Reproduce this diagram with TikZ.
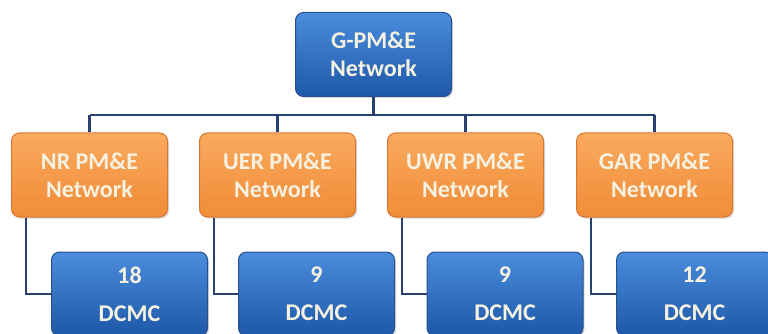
\documentclass[tikz,border=0pt]{standalone}
\usepackage{fontspec}
\setmainfont{Carlito}
\usetikzlibrary{shadows}
\definecolor{bluetop}{RGB}{75,140,220}
\definecolor{bluebot}{RGB}{30,88,168}
\definecolor{blueedge}{RGB}{40,80,140}
\definecolor{orgtop}{RGB}{250,170,95}
\definecolor{orgbot}{RGB}{240,140,55}
\definecolor{orgedge}{RGB}{215,120,50}
\definecolor{linecol}{RGB}{40,65,110}
\definecolor{txtcol}{RGB}{245,242,225}
\tikzset{
  box/.style={rounded corners=8pt, minimum width=156pt, minimum height=84pt,
    align=center, font=\bfseries\fontsize{24}{28}\selectfont, text=txtcol,
    line width=1pt, drop shadow={shadow xshift=1.5pt, shadow yshift=-1.5pt, opacity=0.3}},
  bluebox/.style={box, draw=blueedge, top color=bluetop, bottom color=bluebot},
  orangebox/.style={box, draw=orgedge, top color=orgtop, bottom color=orgbot},
  conn/.style={draw=linecol, line width=2.5pt}
}
\begin{document}
\begin{tikzpicture}[x=1pt,y=-1pt]
\useasboundingbox (0,0) rectangle (768,334);
\coordinate (bar) at (0,115);
\node[bluebox] (top) at (373.5,54.5) {G-PM\&E\\Network};
\node[orangebox] (nr) at (89.5,175) {NR PM\&E\\Network};
\node[orangebox] (uer) at (277.5,175) {UER PM\&E\\Network};
\node[orangebox] (uwr) at (465.5,175) {UWR PM\&E\\Network};
\node[orangebox] (gar) at (654.5,175) {GAR PM\&E\\Network};
\node[bluebox] (d1) at (129.5,294) {18\\[10pt]DCMC};
\node[bluebox] (d2) at (316.5,294) {9\\[10pt]DCMC};
\node[bluebox] (d3) at (505,294) {9\\[10pt]DCMC};
\node[bluebox] (d4) at (694.5,294) {12\\[10pt]DCMC};
\path[conn] (top.south) -- (top.south |- bar);
\path[conn] (nr.north |- bar) -- (gar.north |- bar);
\foreach \n in {nr,uer,uwr,gar} {
  \path[conn] (\n.north |- bar) -- (\n.north);
}
\path[conn] (nr.south west) ++(15,0) |- (d1.west);
\path[conn] (uer.south west) ++(15,0) |- (d2.west);
\path[conn] (uwr.south west) ++(15,0) |- (d3.west);
\path[conn] (gar.south west) ++(15,0) |- (d4.west);
\end{tikzpicture}
\end{document}
